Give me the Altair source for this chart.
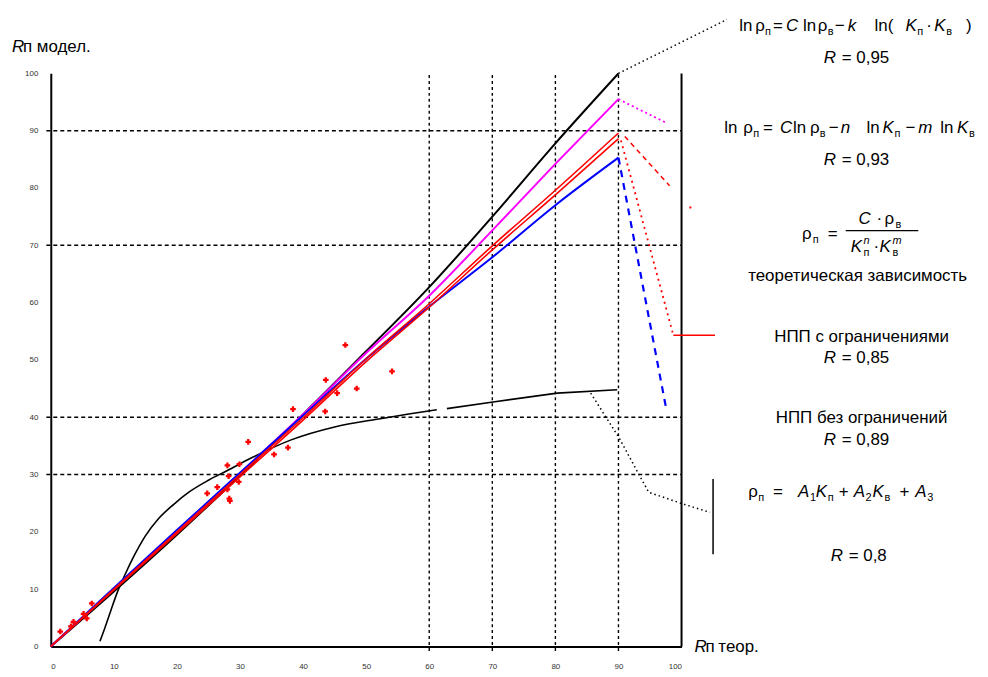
import altair as alt
import pandas as pd

# ---------------- data ----------------
xs_main = [0, 10, 20, 30, 40, 50, 60, 70, 80, 90]
black_y = [0, 9.6, 19.5, 29.8, 40.5, 51.5, 62.7, 75.0, 87.8, 100.0]
magenta_y = [0, 10.0, 20.0, 30.2, 40.5, 51.2, 61.2, 72.6, 84.2, 95.5]
red_a_y = [0, 10.0, 20.0, 30.0, 39.9, 50.2, 59.8, 69.9, 79.6, 89.6]
red_b_y = [0, 9.8, 19.7, 29.6, 39.5, 49.7, 59.2, 69.2, 78.8, 88.6]
blue_y = [0, 10.2, 20.3, 30.3, 40.3, 50.2, 59.3, 67.9, 77.0, 85.3]

lin_x1 = [7.8, 8.6, 9.5, 10.5, 11.8, 13.3, 15.0, 17.0, 19.5, 22.0, 25.0, 28.0, 32.0, 38.0,
          45.0, 52.0, 57.0, 61.2]
lin_y1 = [0.9, 3.3, 6.2, 9.3, 12.6, 16.0, 19.3, 22.2, 24.8, 27.0, 29.0, 30.7, 33.0, 36.0,
          38.3, 39.7, 40.6, 41.3]
lin_x2 = [62.8, 70.4, 80.3, 89.8]
lin_y2 = [41.5, 42.7, 44.2, 44.8]

obs_x = [46.7, 54.1, 43.6, 45.4, 38.4, 43.5, 31.3, 35.4, 37.6, 28.0, 29.9, 28.2, 29.8, 24.8, 28.0,
         28.3, 28.4, 6.5, 5.2, 3.6, 5.7, 1.5, 3.2, 26.4, 48.5]
obs_y = [52.6, 48.0, 46.5, 44.2, 41.4, 41.0, 35.7, 33.5, 34.7, 31.6, 31.8, 29.7, 28.7, 26.7, 27.4,
         25.8, 25.4, 7.5, 5.7, 4.3, 4.9, 2.6, 3.5, 27.8, 45.0]

# continuation / leader lines to the legend texts
blk_lead_x, blk_lead_y = [90, 107.2], [100, 109.4]
mag_ext_x, mag_ext_y = [90, 97.7], [95.5, 91.3]
red_dash_x, red_dash_y = [91.0, 98.1], [89.0, 80.4]
red_dot_x, red_dot_y = [101.4], [76.6]
red_dot_ext_x, red_dot_ext_y = [90.4, 98.7], [88.3, 54.3]
red_sol_x, red_sol_y = [98.7, 105.3], [54.3, 54.3]
blue_ext_x, blue_ext_y = [90, 97.6], [85.3, 41.3]
lin_ext_x = [85.6, 90.1, 93.4, 94.8, 100.4, 104.5]
lin_ext_y = [44.2, 36.4, 29.7, 26.9, 24.8, 23.4]
lin_bar_x, lin_bar_y = [105.0, 105.0], [16.1, 29.2]

grid_y = [30, 40, 70, 90]
grid_x = [60, 70, 80, 90]
ticks = list(range(0, 101, 10))

# ---------------- layout helpers ----------------
W, H = 634, 576
X0, Y0 = 51, 72
FONT = "Liberation Sans"


def dx(px):
    return (px - X0) / W * 100


def dy(py):
    return (Y0 + H - py) / H * 100


xsc = alt.Scale(domain=[0, 100], nice=False, zero=False)
ysc = alt.Scale(domain=[0, 100], nice=False, zero=False)
xaxis = alt.Axis(values=ticks, title="", grid=False, ticks=False, domainColor="black",
                 domainWidth=2, labelFontSize=8, labelColor="#333", labelFont=FONT,
                 labelPadding=16)
yaxis = alt.Axis(values=ticks, title="", grid=False, ticks=False, domainColor="black",
                 domainWidth=2, labelFontSize=8, labelColor="#333", labelFont=FONT,
                 labelPadding=13)


def XE(f="x"):
    return alt.X(f"{f}:Q", scale=xsc, axis=xaxis)


def YE(f="y"):
    return alt.Y(f"{f}:Q", scale=ysc, axis=yaxis)


def line(xv, yv, color, width=2.0, dash=None, smooth=False):
    df = pd.DataFrame({"x": xv, "y": yv, "o": list(range(len(xv)))})
    kw = dict(color=color, strokeWidth=width)
    if dash:
        kw["strokeDash"] = dash
    if smooth:
        kw["interpolate"] = "monotone"
    return alt.Chart(df).mark_line(**kw).encode(x=XE(), y=YE(), order="o:Q")


layers = []

# grid (partial, dashed) + right frame
gh = pd.DataFrame({"x": [-0.7] * len(grid_y), "x2": [100] * len(grid_y), "y": grid_y})
layers.append(alt.Chart(gh).mark_rule(color="black", strokeWidth=1.4, strokeDash=[4, 3])
              .encode(x=XE(), x2="x2:Q", y=YE()))
gv = pd.DataFrame({"x": grid_x, "y": [-0.8] * len(grid_x), "y2": [100] * len(grid_x)})
layers.append(alt.Chart(gv).mark_rule(color="black", strokeWidth=1.4, strokeDash=[3, 3])
              .encode(x=XE(), y=YE(), y2="y2:Q"))
rf = pd.DataFrame({"x": [100], "y": [0], "y2": [100]})
layers.append(alt.Chart(rf).mark_rule(color="black", strokeWidth=2)
              .encode(x=XE(), y=YE(), y2="y2:Q"))

# model lines
layers.append(line(lin_x1, lin_y1, "black", 1.6, smooth=True))
layers.append(line(lin_x2, lin_y2, "black", 1.6))
layers.append(line(xs_main, black_y, "black", 2, smooth=True))
layers.append(line(xs_main, magenta_y, "#ff00ff", 2, smooth=True))
layers.append(line(xs_main, blue_y, "#0000ff", 2, smooth=True))
layers.append(line(xs_main, red_a_y, "#ff0000", 1.6, smooth=True))
layers.append(line(xs_main, red_b_y, "#ff0000", 1.6, smooth=True))

# continuations / leaders
layers.append(line(blk_lead_x, blk_lead_y, "black", 1.5, [1.5, 3]))
layers.append(line(mag_ext_x, mag_ext_y, "#ff00ff", 1.8, [2, 3]))
layers.append(line(red_dash_x, red_dash_y, "#ff0000", 1.5, [5, 4]))
layers.append(line(red_dot_ext_x, red_dot_ext_y, "#ff0000", 1.8, [2, 4]))
layers.append(line(red_sol_x, red_sol_y, "#ff0000", 1.5))
layers.append(line(blue_ext_x, blue_ext_y, "#0000ff", 2.2, [7, 6]))
layers.append(line(lin_ext_x, lin_ext_y, "black", 1.5, [1.5, 3]))
layers.append(line(lin_bar_x, lin_bar_y, "black", 1.5))

rd = pd.DataFrame({"x": red_dot_x, "y": red_dot_y})
layers.append(alt.Chart(rd).mark_point(shape="square", filled=True, size=4, color="#ff0000",
                                       opacity=1).encode(x=XE(), y=YE()))

# observed points
ob = pd.DataFrame({"x": obs_x, "y": obs_y})
layers.append(alt.Chart(ob).mark_point(shape="cross", filled=True, size=32, color="#ff0000",
                                       opacity=1).encode(x=XE(), y=YE()))

# ---------------- annotation text ----------------
STY = {
    "m": (17, "normal", 0),
    "i": (17, "italic", 0),
    "s": (11, "normal", 4),
    "si": (11, "italic", 4),
    "p": (11, "italic", -8),
}

segs = []  # (px, text, style, baseline_py)
# axis titles
segs += [(12, "R", "i", 51), (23, "п", "m", 51), (37, "модел.", "m", 51)]
segs += [(698, "R", "i", 654), (709, "п", "m", 654), (722, "теор.", "m", 654)]
# formula 1
b = 29
segs += [(743, "ln", "m", b), (759, "ρ", "m", b), (769, "п", "s", b), (777, "=", "m", b),
         (790, "C", "i", b), (807, "ln", "m", b), (822, "ρ", "m", b), (832, "в", "s", b),
         (839, "−", "m", b), (852, "k", "i", b), (879, "ln(", "m", b),
         (910, "K", "i", b), (922, "п", "s", b), (931, "·", "m", b), (939, "K", "i", b),
         (951, "в", "s", b), (971, ")", "m", b)]
segs += [(828, "R", "i", 62), (846, "= 0,95", "m", 62)]
# formula 2
b = 132
segs += [(728, "ln", "m", b), (747, "ρ", "m", b), (757, "п", "s", b), (767, "=", "m", b),
         (784, "C", "i", b), (797, "ln", "m", b), (814, "ρ", "m", b), (824, "в", "s", b),
         (833, "−", "m", b), (845, "n", "i", b), (871, "ln", "m", b), (887, "K", "i", b),
         (899, "п", "s", b), (910, "−", "m", b), (923, "m", "i", b), (945, "ln", "m", b),
         (962, "K", "i", b), (974, "в", "s", b)]
segs += [(828, "R", "i", 164), (846, "= 0,93", "m", 164)]
# formula 3 (fraction)
segs += [(806, "ρ", "m", 238), (817, "п", "s", 238), (832, "=", "m", 238),
         (863, "C", "i", 223), (881, "·", "m", 223), (889, "ρ", "m", 223), (900, "в", "s", 223),
         (855, "K", "i", 252), (868, "n", "p", 252), (868, "п", "s", 252), (878, "·", "m", 252),
         (884, "K", "i", 252), (897, "m", "p", 252), (897, "в", "s", 252)]
# R lines
segs += [(828, "R", "i", 363), (846, "= 0,85", "m", 363)]
segs += [(828, "R", "i", 446), (846, "= 0,89", "m", 446)]
# formula 4
b = 498
segs += [(752, "ρ", "m", b), (762, "п", "s", b), (777, "=", "m", b), (802, "A", "i", b),
         (814, "1", "s", b), (820, "K", "i", b), (832, "п", "s", b), (843, "+", "m", b),
         (858, "A", "i", b), (870, "2", "s", b), (877, "K", "i", b), (889, "в", "s", b),
         (904, "+", "m", b), (920, "A", "i", b), (932, "3", "s", b)]
segs += [(835, "R", "i", 562), (853, "= 0,8", "m", 562)]

for key, (fs, fst, off) in STY.items():
    rows = [s for s in segs if s[2] == key]
    if not rows:
        continue
    df = pd.DataFrame({"x": [dx(r[0]) for r in rows], "y": [dy(r[3] + off) for r in rows],
                       "t": [r[1] for r in rows]})
    layers.append(alt.Chart(df).mark_text(align="left", baseline="alphabetic", font=FONT,
                                          fontSize=fs, fontStyle=fst, color="black")
                  .encode(x=XE(), y=YE(), text="t:N"))

cent = pd.DataFrame({"x": [dx(862), dx(866), dx(866)], "y": [dy(281), dy(342), dy(423)],
                     "t": ["теоретическая зависимость", "НПП с ограничениями",
                           "НПП без ограничений"]})
layers.append(alt.Chart(cent).mark_text(align="center", baseline="alphabetic", font=FONT,
                                        fontSize=17, color="black")
              .encode(x=XE(), y=YE(), text="t:N"))

# fraction bar
layers.append(line([dx(850), dx(923)], [dy(230), dy(230)], "black", 1.2))

chart = alt.layer(*layers).properties(
    width=W, height=H,
    autosize=alt.AutoSizeParams(type="none"),
    padding={"left": X0 - 8, "top": Y0 - 8, "right": 300, "bottom": 26},
    background="white",
).configure_view(stroke="transparent")

chart.save("out.html", embed_options={"renderer": "svg", "actions": False})
